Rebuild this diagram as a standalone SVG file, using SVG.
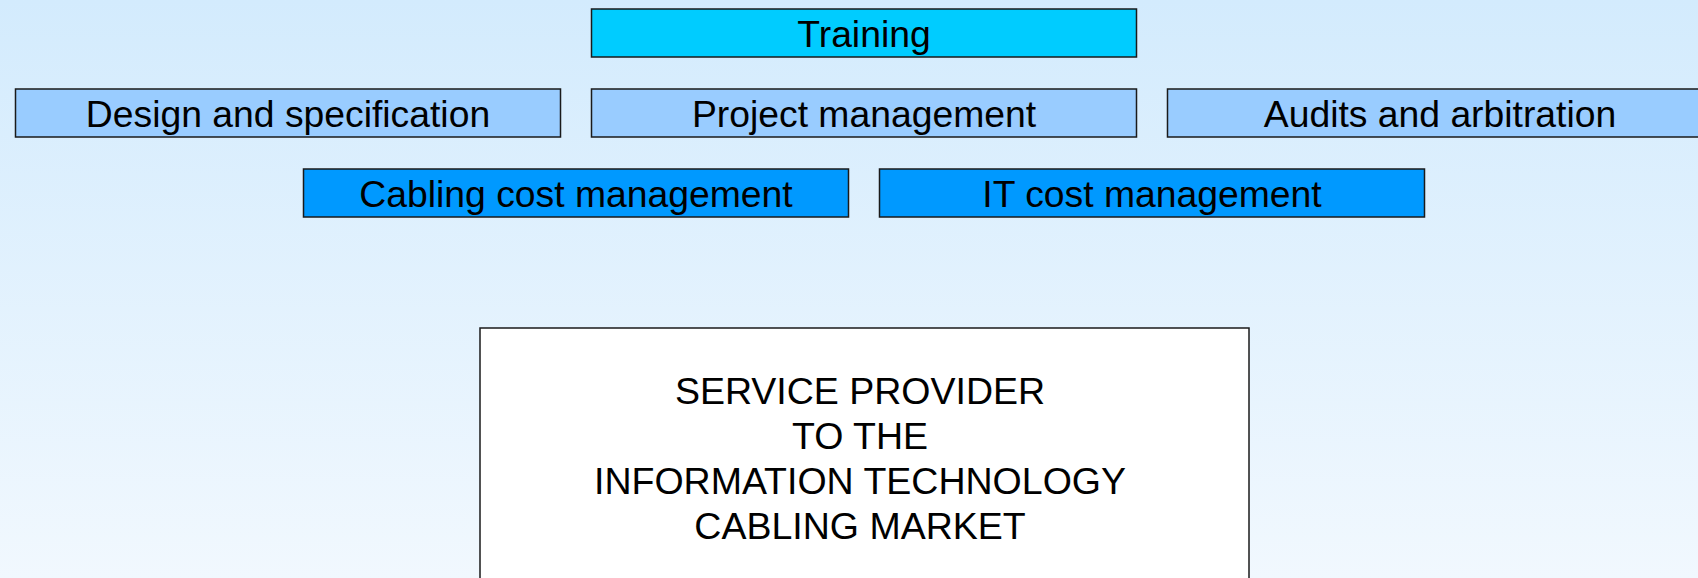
<svg xmlns="http://www.w3.org/2000/svg" width="1698" height="578" viewBox="0 0 1698 578">
<defs>
<linearGradient id="bg" x1="0" y1="0" x2="0" y2="1">
<stop offset="0" stop-color="#d3ebfd"/>
<stop offset="1" stop-color="#f1f8fe"/>
</linearGradient>
<style>
.box{stroke:#1a1a1a;stroke-width:1.5}
.t{font-family:"Liberation Sans",Arial,sans-serif;font-size:37.3px;fill:#000;text-anchor:middle}
.big{font-family:"Liberation Sans",Arial,sans-serif;font-size:37.5px;fill:#000;text-anchor:middle}
</style>
</defs>
<rect x="0" y="0" width="1698" height="578" fill="url(#bg)"/>
<g id="connectors"></g>
<g id="training"><rect class="box" x="591.5" y="9" width="545" height="48" fill="#00ccff"/><text class="t" x="864" y="47">Training</text></g>
<g id="design"><rect class="box" x="15.5" y="89" width="545" height="48" fill="#99ccff"/><text class="t" x="288" y="127">Design and specification</text></g>
<g id="project"><rect class="box" x="591.5" y="89" width="545" height="48" fill="#99ccff"/><text class="t" x="864" y="127">Project management</text></g>
<g id="audits"><rect class="box" x="1167.5" y="89" width="545" height="48" fill="#99ccff"/><text class="t" x="1440" y="127">Audits and arbitration</text></g>
<g id="cabling"><rect class="box" x="303.5" y="169" width="545" height="48" fill="#0099ff"/><text class="t" x="576" y="207">Cabling cost management</text></g>
<g id="itcost"><rect class="box" x="879.5" y="169" width="545" height="48" fill="#0099ff"/><text class="t" x="1152" y="207">IT cost management</text></g>
<g id="provider"><rect class="box" x="480" y="328" width="769" height="270" fill="#ffffff"/>
<text class="big" x="860" y="404">SERVICE PROVIDER</text>
<text class="big" x="860" y="449">TO THE</text>
<text class="big" x="860" y="494">INFORMATION TECHNOLOGY</text>
<text class="big" x="860" y="539">CABLING MARKET</text></g>
</svg>
